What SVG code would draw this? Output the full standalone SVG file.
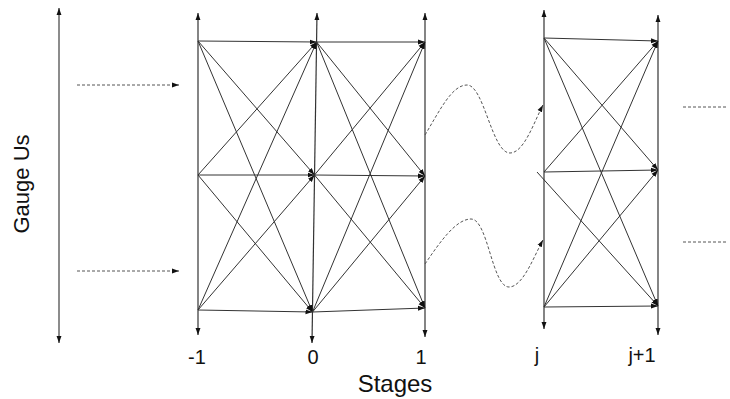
<svg xmlns="http://www.w3.org/2000/svg" width="730" height="399" viewBox="0 0 730 399">
<defs>
<marker id="ah" viewBox="0 0 10 10" refX="10" refY="5" markerWidth="7" markerHeight="7" markerUnits="userSpaceOnUse" orient="auto-start-reverse">
<path d="M0,1.5 L10,5 L0,8.5 z" fill="#111"/>
</marker>
<style>
.e{stroke:#333;stroke-width:1;fill:none;marker-end:url(#ah)}
.v{stroke:#333;stroke-width:1.2;fill:none;marker-start:url(#ah);marker-end:url(#ah)}
.d{stroke:#555;stroke-width:1;stroke-dasharray:3 2;fill:none}
.da{stroke:#555;stroke-width:1;stroke-dasharray:3 2;fill:none;marker-end:url(#ah)}
.t{font-family:"Liberation Sans",Arial,Helvetica,sans-serif;fill:#111}
</style>
</defs>
<rect width="730" height="399" fill="#fff"/>

<g id="gauge-axis">
<line class="v" x1="59" y1="8" x2="59" y2="343" style="stroke:#666;stroke-width:1.5"/>
<text class="t" font-size="22" text-anchor="middle" transform="translate(29,184) rotate(-90)">Gauge Us</text>
</g>

<g id="stage-m1">
<line class="v" x1="198" y1="13" x2="198" y2="335"/>
<text class="t" font-size="20" x="197" y="364" text-anchor="middle">-1</text>
</g>
<g id="stage-0">
<line class="v" x1="317" y1="13" x2="312" y2="343"/>
<text class="t" font-size="20" x="313" y="364" text-anchor="middle">0</text>
</g>
<g id="stage-1">
<line class="v" x1="425" y1="13" x2="425" y2="337"/>
<text class="t" font-size="20" x="421" y="364" text-anchor="middle">1</text>
</g>
<g id="stage-j">
<line class="v" x1="544" y1="10" x2="544" y2="329"/>
<text class="t" font-size="20" x="537" y="362" text-anchor="middle">j</text>
</g>
<g id="stage-j1">
<line class="v" x1="658" y1="15" x2="658" y2="335"/>
<text class="t" font-size="20" x="642" y="362" text-anchor="middle">j+1</text>
</g>
<g id="stages-label">
<text class="t" font-size="24" x="395" y="392" text-anchor="middle">Stages</text>
</g>

<g id="connectors">
<line class="e" x1="198" y1="41" x2="316.6" y2="42"/>
<line class="e" x1="198" y1="41" x2="314.5" y2="175"/>
<line class="e" x1="198" y1="41" x2="312.5" y2="312"/>
<line class="e" x1="198" y1="175" x2="316.6" y2="42"/>
<line class="e" x1="198" y1="175" x2="314.5" y2="175"/>
<line class="e" x1="198" y1="175" x2="312.5" y2="312"/>
<line class="e" x1="198" y1="310" x2="316.6" y2="42"/>
<line class="e" x1="198" y1="310" x2="314.5" y2="175"/>
<line class="e" x1="198" y1="310" x2="312.5" y2="312"/>
<line class="e" x1="316.6" y1="42" x2="425" y2="42"/>
<line class="e" x1="316.6" y1="42" x2="425" y2="176"/>
<line class="e" x1="316.6" y1="42" x2="425" y2="308"/>
<line class="e" x1="314.5" y1="175" x2="425" y2="42"/>
<line class="e" x1="314.5" y1="175" x2="425" y2="176"/>
<line class="e" x1="314.5" y1="175" x2="425" y2="308"/>
<line class="e" x1="312.5" y1="312" x2="425" y2="42"/>
<line class="e" x1="312.5" y1="312" x2="425" y2="176"/>
<line class="e" x1="312.5" y1="312" x2="425" y2="308"/>
<line class="e" x1="544" y1="38" x2="658" y2="41"/>
<line class="e" x1="544" y1="38" x2="658" y2="170"/>
<line class="e" x1="544" y1="38" x2="658" y2="306"/>
<line class="e" x1="544" y1="172" x2="658" y2="41"/>
<line class="e" x1="544" y1="172" x2="658" y2="170"/>
<line class="e" x1="537" y1="172" x2="658" y2="306"/>
<line class="e" x1="544" y1="307" x2="658" y2="41"/>
<line class="e" x1="544" y1="307" x2="658" y2="170"/>
<line class="e" x1="544" y1="307" x2="658" y2="306"/>
<line class="da" x1="77" y1="85" x2="179" y2="85"/>
<line class="da" x1="77" y1="271" x2="179" y2="271"/>
<path class="da" d="M425,135 C440,110 452,85 467,85 C484,85 492,153 510,153 C524,153 534,122 543,105"/>
<path class="da" d="M425,264 C440,242 456,219 471,219 C488,219 492,287 509,287 C523,287 534,256 543,240"/>
<line class="d" x1="683" y1="107" x2="728" y2="107"/>
<line class="d" x1="683" y1="242" x2="728" y2="242"/>
</g>
</svg>
